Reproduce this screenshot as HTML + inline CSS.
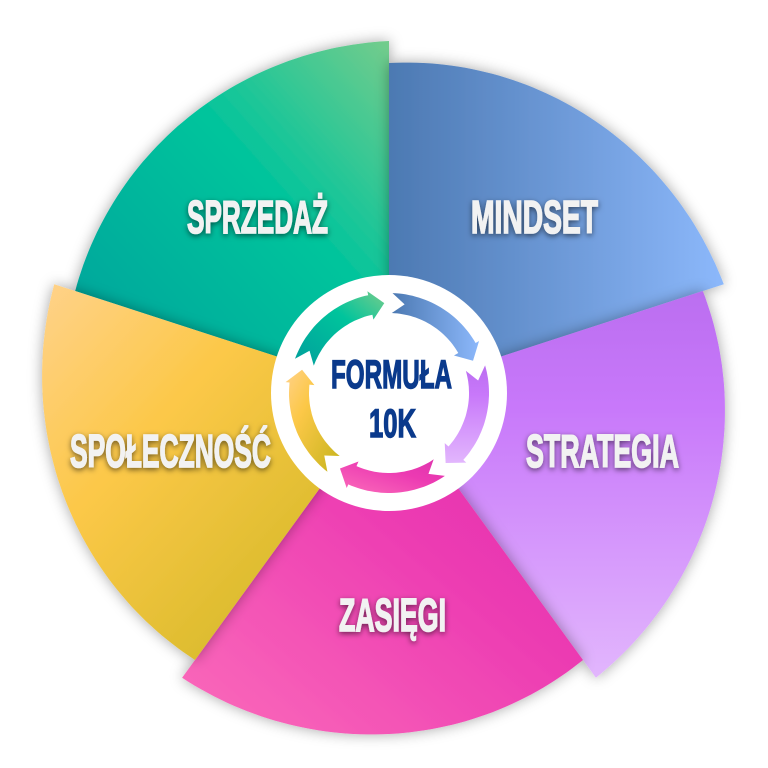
<!DOCTYPE html>
<html><head><meta charset="utf-8"><style>
html,body{margin:0;padding:0;background:#fff}
svg{display:block}
.lbl{font-family:"Liberation Sans Narrow","Liberation Sans",sans-serif;font-weight:bold;fill:#f2f2f2;stroke:#f2f2f2;stroke-width:1.6;font-size:46px}
.ctr{font-family:"Liberation Sans Narrow","Liberation Sans",sans-serif;font-weight:bold;fill:#0b3a8c;stroke:#0b3a8c;stroke-width:1.4;font-size:40px}
</style></head><body>
<svg id="s" width="768" height="768" viewBox="0 0 768 768" xmlns="http://www.w3.org/2000/svg">
<defs>
<linearGradient id="gG" x1="0" y1="1" x2="1" y2="0"><stop offset="0" stop-color="#019f9c"/><stop offset="0.6" stop-color="#00c49c"/><stop offset="1" stop-color="#74cc8c"/></linearGradient>
<linearGradient id="gB" x1="0" y1="0" x2="1" y2="0"><stop offset="0" stop-color="#4c79b2"/><stop offset="1" stop-color="#8cb8fb"/></linearGradient>
<linearGradient id="gP" x1="0" y1="0" x2="0" y2="1"><stop offset="0" stop-color="#bb6ef0"/><stop offset="0.3" stop-color="#c878fa"/><stop offset="1" stop-color="#e2b6fd"/></linearGradient>
<linearGradient id="gK" x1="0" y1="1" x2="1" y2="0"><stop offset="0" stop-color="#fb6cba"/><stop offset="0.6" stop-color="#ec3ab2"/><stop offset="1" stop-color="#de34ae"/></linearGradient>
<linearGradient id="gY" x1="0" y1="0" x2="1" y2="1"><stop offset="0" stop-color="#ffd28a"/><stop offset="0.35" stop-color="#fcc848"/><stop offset="1" stop-color="#c6b41c"/></linearGradient>
<filter id="sh" x="-20%" y="-20%" width="140%" height="140%"><feDropShadow dx="0" dy="0" stdDeviation="7" flood-color="#000" flood-opacity="0.35"/></filter>
<filter id="ts" x="-20%" y="-40%" width="140%" height="180%"><feDropShadow dx="0" dy="2" stdDeviation="3" flood-color="#000" flood-opacity="0.55"/></filter>
</defs>
<g id="segs"></g>
<circle cx="389" cy="393" r="118" fill="#fff"/>
<g id="ring"></g>
<g class="lbl" filter="url(#ts)">
<text x="187" y="233" textLength="141" lengthAdjust="spacingAndGlyphs">SPRZEDAŻ</text>
<text x="471" y="233" textLength="127" lengthAdjust="spacingAndGlyphs">MINDSET</text>
<text x="526" y="467" textLength="153" lengthAdjust="spacingAndGlyphs">STRATEGIA</text>
<text x="70" y="467" textLength="201" lengthAdjust="spacingAndGlyphs">SPOŁECZNOŚĆ</text>
<text x="339" y="631" textLength="107" lengthAdjust="spacingAndGlyphs">ZASIĘGI</text>
</g>
<g class="ctr">
<text x="331" y="388" textLength="121" lengthAdjust="spacingAndGlyphs">FORMUŁA</text>
<text x="369" y="437" textLength="47" lengthAdjust="spacingAndGlyphs">10K</text>
</g>
</svg>
<script>
(function(){
var cx=389,cy=393,NS="http://www.w3.org/2000/svg";
function P(a,r){var t=a*Math.PI/180;return [cx+r*Math.cos(t),cy+r*Math.sin(t)];}
var defs=[[198,"url(#gG)"],[270,"url(#gB)"],[342,"url(#gP)"],[414,"url(#gK)"],[486,"url(#gY)"]];
var g=document.getElementById("segs");
for(var i=0;i<5;i++){
 var a0=defs[i][0],d="M"+cx+","+cy;
 for(var k=0;k<=60;k++){var a=a0+72*k/60,r=330+22*k/60;var p=P(a,r);d+=" L"+p[0].toFixed(1)+","+p[1].toFixed(1);}
 d+=" Z";
 var e=document.createElementNS(NS,"path");e.setAttribute("d",d);e.setAttribute("fill",defs[i][1]);e.setAttribute("filter","url(#sh)");g.appendChild(e);
}
var ring=document.getElementById("ring");
var cols=["url(#gG)","url(#gB)","url(#gP)","url(#gK)","url(#gY)"];
var starts=[198,270,342,414,486];
var ro=100,ri=80,rm=90;
for(var i=0;i<5;i++){
 var s=starts[i]+2,e=starts[i]+60,d="";
 for(var k=0;k<=30;k++){var p=P(s+(e-s)*k/30,ro);d+=(k?" L":"M")+p[0].toFixed(1)+","+p[1].toFixed(1);}
 var t1=P(e,ro+4),tip=P(e+9,rm),t2=P(e,ri-5);
 d+=" L"+t1+" L"+tip+" L"+t2;
 for(var k=30;k>=0;k--){var p=P(s+(e-s)*k/30,ri);d+=" L"+p[0].toFixed(1)+","+p[1].toFixed(1);}
 var n=P(s+8,rm);d+=" L"+n+" Z";
 var el=document.createElementNS(NS,"path");el.setAttribute("d",d);el.setAttribute("fill",cols[i]);ring.appendChild(el);
}
})();
</script>
</body></html>
